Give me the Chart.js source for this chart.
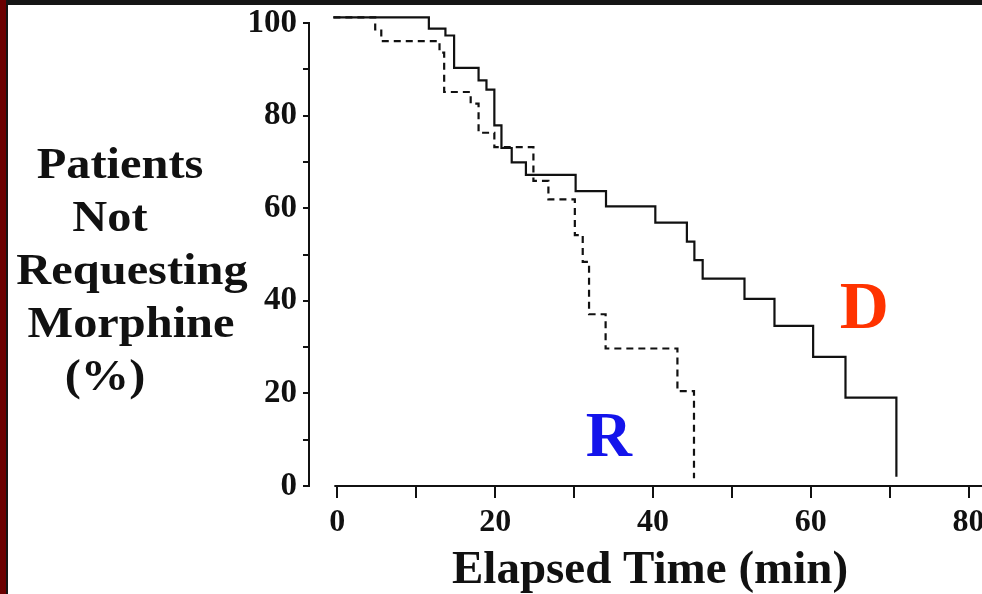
<!DOCTYPE html>
<html>
<head>
<meta charset="utf-8">
<title>Patients not requesting morphine</title>
<script src="https://cdn.jsdelivr.net/npm/chart.js@4.4.1/dist/chart.umd.min.js"></script>
<style>
  html, body { margin: 0; padding: 0; background: #fff; overflow: hidden; }
  #wrap { width: 982px; height: 594px; position: relative; }
</style>
</head>
<body>
<div id="wrap"><canvas id="kmChart"></canvas></div>
<script>
// tick values
const timeTicks = [0, 10, 20, 30, 40, 50, 60, 70, 80];
const pctTicks = [0, 10, 20, 30, 40, 50, 60, 70, 80, 90, 100];

// D group (solid line): time of each drop (min) and % remaining after it
const dTime = [-0.5, 11.6, 13.7, 14.8, 17.9, 18.9, 19.9, 20.8, 22.1, 23.9, 30.2, 34.05, 40.3, 44.3, 45.25, 46.3, 51.6, 55.4, 60.3, 64.4, 70.85];
const dPct  = [101.2, 98.8, 97.3, 90.3, 87.6, 85.6, 77.9, 73.0, 69.9, 67.2, 63.7, 60.4, 56.9, 52.8, 48.8, 44.8, 40.4, 34.6, 27.9, 19.1, 2.0];

// R group (dashed line)
const rTime = [-0.5, 4.8, 5.57, 12.95, 13.54, 16.9, 17.9, 19.9, 24.85, 26.75, 30.1, 31.1, 31.9, 34.0, 43.1, 45.2];
const rPct  = [101.2, 98.6, 96.1, 93.6, 85.1, 82.6, 76.3, 73.2, 65.9, 61.9, 54.2, 48.4, 37.1, 29.7, 20.5, 1.7];

const yTitle = ['Patients', 'Not', 'Requesting', 'Morphine', '(%)'];
const xTitle = 'Elapsed Time (min)';

const serif = "'Liberation Serif', 'Times New Roman', serif";
const ink = '#111';

const toPoints = (xs, ys) => xs.map((t, i) => ({ x: t, y: ys[i] }));

// frame, axis line, titles and group letters
const decorations = {
  id: 'decorations',
  beforeDraw(chart) {
    const { ctx, width, height } = chart;
    ctx.save();
    ctx.fillStyle = '#fff';
    ctx.fillRect(0, 0, width, height);
    ctx.fillStyle = '#6b0000';
    ctx.fillRect(0, 0, 6, height);
    ctx.fillStyle = '#151515';
    ctx.fillRect(6, 0, 2, height);
    ctx.fillRect(8, 0, width - 8, 5);
    ctx.restore();
  },
  afterDraw(chart) {
    const { ctx } = chart;
    const x = chart.scales.x, y = chart.scales.y;
    ctx.save();

    // x axis line starts just before 0, apart from the y axis
    ctx.strokeStyle = ink;
    ctx.lineWidth = 2;
    ctx.beginPath();
    ctx.moveTo(x.getPixelForValue(0) - 3, y.bottom);
    ctx.lineTo(x.right, y.bottom);
    ctx.stroke();

    ctx.fillStyle = ink;
    ctx.textBaseline = 'alphabetic';
    ctx.textAlign = 'center';

    // y title, stacked lines
    ctx.font = 'bold 44px ' + serif;
    const centers = [120, 110, 132, 131, 105];
    yTitle.forEach((line, i) => {
      ctx.save();
      ctx.translate(centers[i], 178 + i * 53);
      ctx.scale(1.1, 1);
      ctx.fillText(line, 0, 0);
      ctx.restore();
    });

    // x title
    ctx.font = 'bold 47px ' + serif;
    ctx.fillText(xTitle, 650, 583);

    // group letters
    ctx.font = 'bold 64px ' + serif;
    ctx.fillStyle = 'rgb(20, 20, 235)';
    ctx.fillText('R', x.getPixelForValue(34.4), y.getPixelForValue(6.5));
    ctx.font = 'bold 68px ' + serif;
    ctx.fillStyle = 'rgb(255, 51, 0)';
    ctx.fillText('D', x.getPixelForValue(66.8), y.getPixelForValue(34.1));

    ctx.restore();
  }
};

const ctx = document.getElementById('kmChart').getContext('2d');
new Chart(ctx, {
  type: 'line',
  data: {
    datasets: [
      {
        label: 'D',
        data: toPoints(dTime, dPct),
        borderColor: ink,
        borderWidth: 2.2,
        stepped: 'before',
        pointRadius: 0,
        fill: false,
        clip: false
      },
      {
        label: 'R',
        data: toPoints(rTime, rPct),
        borderColor: ink,
        borderWidth: 2.2,
        borderDash: [7, 5],
        stepped: 'before',
        pointRadius: 0,
        fill: false,
        clip: false
      }
    ]
  },
  options: {
    responsive: true,
    maintainAspectRatio: false,
    animation: false,
    layout: { padding: { top: 23, left: 0, right: 0, bottom: 0 } },
    plugins: {
      legend: { display: false },
      tooltip: { enabled: false }
    },
    scales: {
      x: {
        type: 'linear',
        min: -3.59,
        max: 81.7,
        border: { display: false },
        grid: { drawOnChartArea: false, drawTicks: true, tickLength: 12, color: ink, lineWidth: 2 },
        ticks: {
          autoSkip: false,
          maxRotation: 0,
          padding: 6,
          color: ink,
          font: { family: serif, size: 32, weight: 'bold' },
          callback: v => (v % 20 === 0 ? v : '')
        },
        afterBuildTicks: s => { s.ticks = timeTicks.map(v => ({ value: v })); },
        afterFit: s => { s.height = 108; s.paddingLeft = 0; s.paddingRight = 0; }
      },
      y: {
        type: 'linear',
        min: 0,
        max: 100,
        border: { display: true, color: ink, width: 2 },
        grid: { drawOnChartArea: false, drawTicks: true, tickLength: 6, color: ink, lineWidth: 2 },
        ticks: {
          autoSkip: false,
          padding: 6,
          color: ink,
          font: { family: serif, size: 33, weight: 'bold' },
          callback: v => (v % 20 === 0 ? v : '')
        },
        afterBuildTicks: s => { s.ticks = pctTicks.map(v => ({ value: v })); },
        afterFit: s => { s.width = 309; s.paddingTop = 0; s.paddingBottom = 0; }
      }
    }
  },
  plugins: [decorations]
});
</script>
</body>
</html>
